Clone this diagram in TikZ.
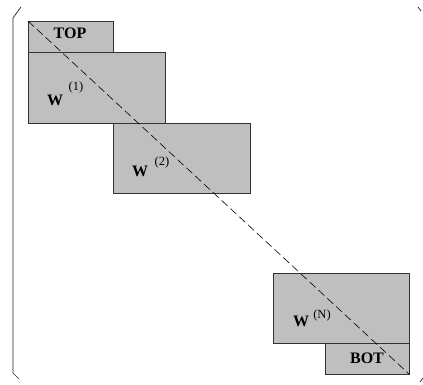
\documentclass[tikz,border=0pt]{standalone}
\usepackage{fontspec}
\setmainfont{Liberation Serif}
\begin{document}
\begin{tikzpicture}[x=1pt,y=-1pt,
  blk/.style={draw=black!80,line width=0.9pt,fill=black!25,inner sep=0pt,outer sep=0pt,anchor=north west},
  wlab/.style={font=\fontsize{16}{16}\selectfont\bfseries,inner sep=0pt,anchor=base},
  slab/.style={font=\fontsize{12.5}{12.5}\selectfont,inner sep=0pt,anchor=base},
  brk/.style={line width=0.7pt,black!85}]
\useasboundingbox (0,0) rectangle (423,385);
% blocks
\node[blk,minimum width=85pt,minimum height=31pt] (top) at (28,21) {};
\node[blk,minimum width=137pt,minimum height=71pt] (w1) at (28,52) {};
\node[blk,minimum width=137pt,minimum height=70pt] (w2) at (113,123) {};
\node[blk,minimum width=136pt,minimum height=70pt] (wn) at (273,273) {};
\node[blk,minimum width=84pt,minimum height=31pt] (bot) at (325,343) {};
% labels
\node[wlab] (ttop) at (70,39) {TOP};
\node[wlab] (tw1) at (55,106) {W};
\node[slab] (sw1) at (76,91) {(1)};
\node[wlab] (tw2) at (140,176) {W};
\node[slab] (sw2) at (162,165) {(2)};
\node[wlab] (twn) at (301,326) {W};
\node[slab] (swn) at (322,318) {(N)};
\node[wlab] (tbot) at (367,363) {BOT};
% diagonal
\draw[black,line width=0.6pt,dash pattern=on 8pt off 4pt] (top.north west) -- (bot.south east);
% brackets
\coordinate (lt) at (21,7);
\coordinate (la) at (13,18);
\coordinate (lb) at (13,373);
\coordinate (lc) at (19,379);
\draw[brk] (lt) -- (la) -- (lb) -- (lc);
\coordinate (rt1) at (418,7);
\coordinate (rt2) at (421,11);
\draw[brk] (rt1) -- (rt2);
\coordinate (rb1) at (423,378);
\coordinate (rb2) at (420,382);
\draw[brk] (rb1) -- (rb2);
\end{tikzpicture}
\end{document}
